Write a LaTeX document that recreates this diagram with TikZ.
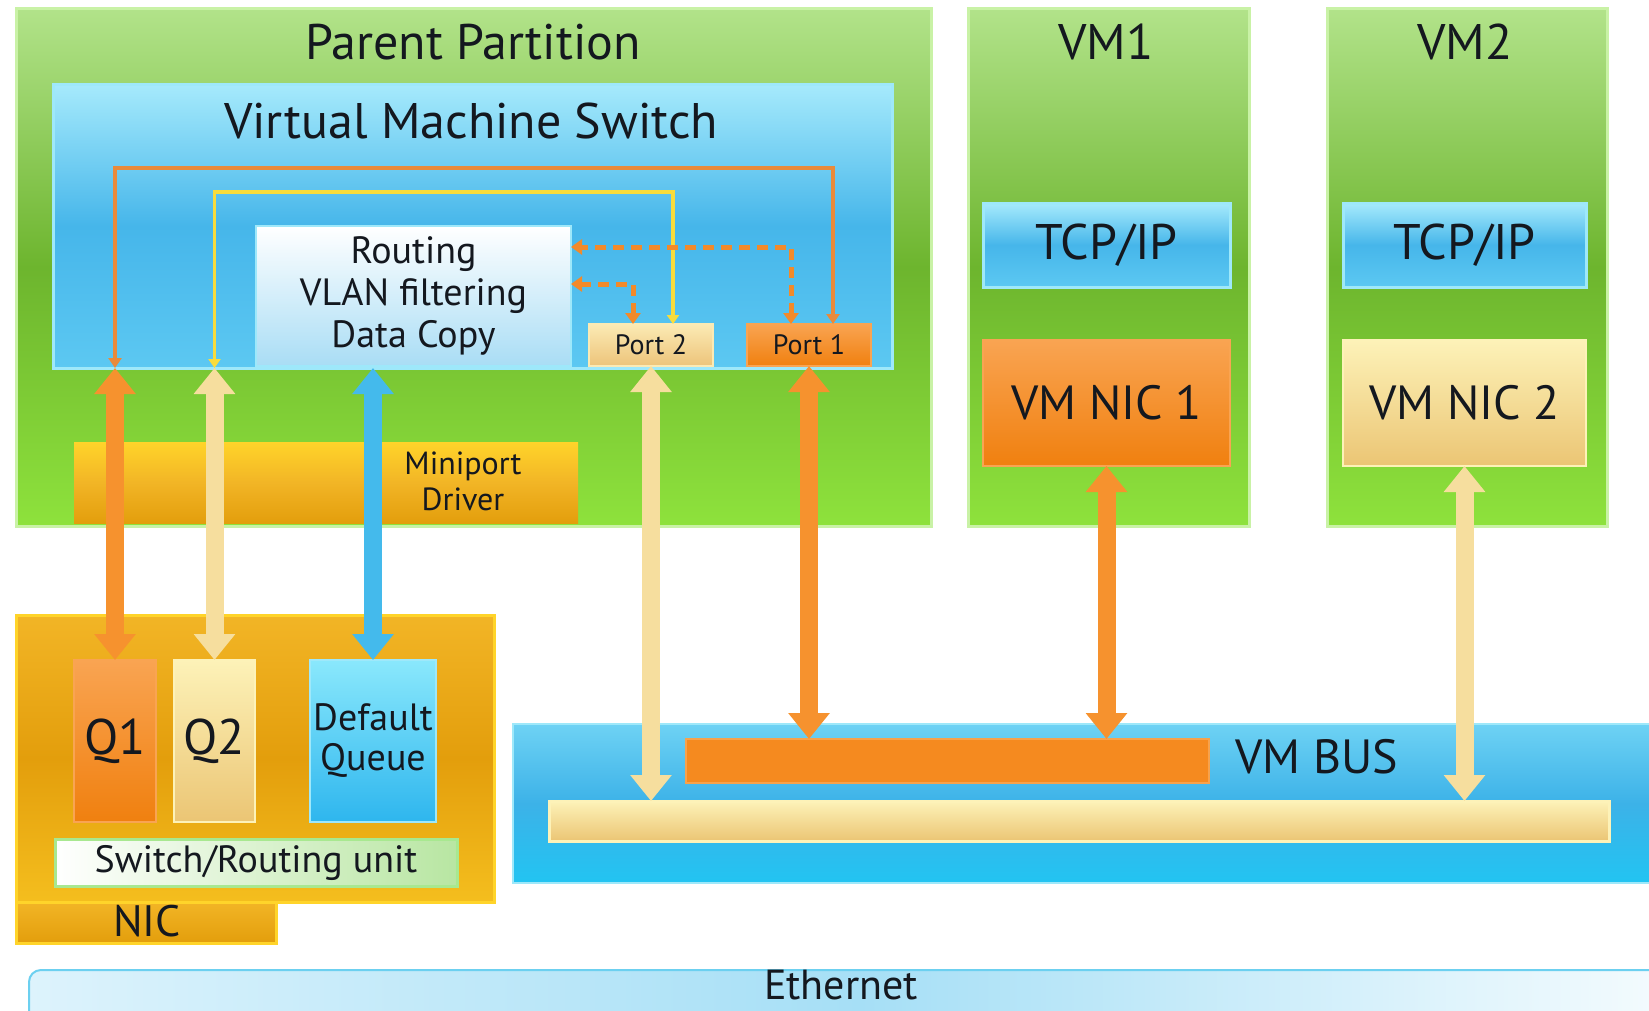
\documentclass[tikz,border=0pt]{standalone}
\usepackage{fontspec}
\setmainfont{PT Sans}
\usetikzlibrary{arrows.meta,calc}
\definecolor{txt}{HTML}{14181F}
\definecolor{gTop}{HTML}{B2E38A}\definecolor{gMid}{HTML}{6DB52E}\definecolor{gBot}{HTML}{8EE23C}\definecolor{gEdge}{HTML}{C9F2A6}
\definecolor{bTop}{HTML}{A6EAFC}\definecolor{bMid}{HTML}{46B6EA}\definecolor{bBot}{HTML}{5CC8F2}\definecolor{bEdge}{HTML}{9EE8FA}
\definecolor{rTop}{HTML}{FFFFFF}\definecolor{rBot}{HTML}{A9DDF5}
\definecolor{pTop}{HTML}{FBEAB4}\definecolor{pBot}{HTML}{EDC47A}
\definecolor{oTop}{HTML}{F9A452}\definecolor{oBot}{HTML}{F0800F}
\definecolor{yTop}{HTML}{FDF2B8}\definecolor{yBot}{HTML}{EBC574}
\definecolor{goldTop}{HTML}{F2B526}\definecolor{goldMid}{HTML}{E39E0C}\definecolor{goldBot}{HTML}{F4BE1E}\definecolor{goldEdge}{HTML}{FFD42A}
\definecolor{dqTop}{HTML}{8AE8FC}\definecolor{dqBot}{HTML}{2EB6EE}
\definecolor{sruL}{HTML}{FFFFFF}\definecolor{sruR}{HTML}{B8E6A2}\definecolor{sruE}{HTML}{A8E890}
\definecolor{vbTop}{HTML}{6ED2F4}\definecolor{vbMid}{HTML}{3CB2E8}\definecolor{vbBot}{HTML}{22C4F2}
\definecolor{obar}{HTML}{F58A1F}\definecolor{obarE}{HTML}{F7A24C}
\definecolor{arrO}{HTML}{F6922E}\definecolor{arrY}{HTML}{F6DE9E}\definecolor{arrB}{HTML}{44BAEC}
\definecolor{lineO}{HTML}{E98A3A}\definecolor{lineY}{HTML}{F8DC3C}\definecolor{dashOc}{HTML}{F28A2A}
\definecolor{ethL}{HTML}{DDF3FC}\definecolor{ethM}{HTML}{A6DFF6}\definecolor{ethR}{HTML}{F6FCFE}\definecolor{ethE}{HTML}{6CD0F0}
\tikzset{
  box/.style={anchor=north west, inner sep=0pt, outer sep=0pt, align=center, text=txt},
  lbl/.style={inner sep=0pt, align=center, text=txt},
  greenbox/.style={top color=gTop, bottom color=gBot, middle color=gMid, draw=gEdge, line width=3pt},
  bluebox/.style={top color=bTop, bottom color=bBot, middle color=bMid, draw=bEdge, line width=3pt},
  routebox/.style={top color=rTop, bottom color=rBot, draw=bEdge, line width=2pt},
  palebox/.style={top color=yTop, bottom color=yBot, draw=yTop, line width=2pt},
  orangebox/.style={top color=oTop, bottom color=oBot, draw=oTop, line width=2pt},
  goldbox/.style={top color=goldTop, bottom color=goldBot, middle color=goldMid, draw=goldEdge, line width=3pt},
  qbluebox/.style={top color=dqTop, bottom color=dqBot, draw=bEdge, line width=2pt},
  srubox/.style={left color=sruL, right color=sruR, draw=sruE, line width=3pt},
  busbox/.style={top color=vbTop, bottom color=vbBot, middle color=vbMid, draw=bEdge, line width=2pt},
  fat/.style={line width=18pt, {Triangle[width=40pt,length=26pt]}-{Triangle[width=40pt,length=26pt]}},
  thinO/.style={draw=lineO, line width=4pt, {Triangle[width=13pt,length=10pt]}-{Triangle[width=13pt,length=10pt]}},
  thinY/.style={draw=lineY, line width=3.5pt, {Triangle[width=12pt,length=9pt]}-{Triangle[width=12pt,length=9pt]}},
  dashO/.style={draw=dashOc, line width=5pt, dash pattern=on 11pt off 7pt, {Triangle[width=15pt,length=11pt]}-{Triangle[width=15pt,length=11pt]}},
}
\begin{document}
\begin{tikzpicture}[x=1pt,y=-1pt]
\useasboundingbox (0,0) rectangle (1649,1010);
\fill[white] (0,0) rectangle (1649,1010);
% partitions
\node[box, greenbox, minimum width=915pt, minimum height=518pt] (pp) at (16,8) {};
\node[box, greenbox, minimum width=281pt, minimum height=518pt] (vm1) at (968,8) {};
\node[box, greenbox, minimum width=280pt, minimum height=518pt] (vm2) at (1327,8) {};
\node[lbl, font=\fontsize{50}{52}\selectfont] (pptitle) at (473,42) {Parent Partition};
\node[lbl, font=\fontsize{50}{52}\selectfont] (vm1title) at (1106,42) {VM1};
\node[lbl, font=\fontsize{50}{52}\selectfont] (vm2title) at (1465,42) {VM2};
% virtual machine switch
\node[box, bluebox, minimum width=839pt, minimum height=284pt] (vms) at (53,84) {};
\node[lbl, font=\fontsize{50}{52}\selectfont] (vmstitle) at (471,121) {Virtual Machine Switch};
\node[box, routebox, minimum width=315pt, minimum height=140pt, font=\fontsize{38}{42}\selectfont] (route) at (256,226) {Routing\\VLAN filtering\\Data Copy};
\node[box, top color=pTop, bottom color=pBot, draw=pTop, line width=2pt, minimum width=124pt, minimum height=42pt, font=\fontsize{28}{30}\selectfont] (port2) at (589,324) {Port 2};
\node[box, top color=oTop, bottom color=oBot, draw=oTop, line width=2pt, minimum width=124pt, minimum height=42pt, font=\fontsize{28}{30}\selectfont] (port1) at (747,324) {Port 1};
% miniport
\node[box, top color=goldEdge, bottom color=goldMid, middle color=goldTop, minimum width=504pt, minimum height=81pt] (mini) at (74,442) {};
\node[lbl, font=\fontsize{32}{36}\selectfont] (minilbl) at (463,481) {Miniport\\Driver};
% VM stacks
\node[box, bluebox, minimum width=247pt, minimum height=84pt, font=\fontsize{50}{52}\selectfont] (tcp1) at (983,203) {TCP/IP};
\node[box, bluebox, minimum width=243pt, minimum height=84pt, font=\fontsize{50}{52}\selectfont] (tcp2) at (1343,203) {TCP/IP};
\node[box, orangebox, minimum width=247pt, minimum height=126pt, font=\fontsize{48}{50}\selectfont] (nic1) at (983,340) {VM NIC 1};
\node[box, palebox, minimum width=243pt, minimum height=126pt, font=\fontsize{48}{50}\selectfont] (nic2) at (1343,340) {VM NIC 2};
% NIC
\node[box, goldbox, minimum width=478pt, minimum height=287pt] (nicbox) at (16,615) {};
\node[box, top color=goldTop, bottom color=goldMid, draw=goldEdge, line width=3pt, minimum width=260pt, minimum height=41pt] (nicbar) at (16,902) {};
\node[lbl, font=\fontsize{44}{46}\selectfont] (niclbl) at (147,921) {NIC};
\node[box, orangebox, minimum width=82pt, minimum height=162pt, font=\fontsize{50}{52}\selectfont] (q1) at (74,660) {Q1};
\node[box, palebox, minimum width=81pt, minimum height=162pt, font=\fontsize{50}{52}\selectfont] (q2) at (174,660) {Q2};
\node[box, qbluebox, minimum width=126pt, minimum height=162pt, font=\fontsize{38}{40}\selectfont] (dq) at (310,660) {Default\\Queue};
\node[box, srubox, minimum width=402pt, minimum height=47pt, font=\fontsize{38}{40}\selectfont] (sru) at (55,839) {Switch/Routing unit};
% VM bus
\node[box, busbox, minimum width=1145pt, minimum height=159pt] (vmbus) at (513,724) {};
\node[box, fill=obar, draw=obarE, line width=2pt, minimum width=523pt, minimum height=44pt] (obarn) at (686,739) {};
\node[box, top color=yTop, bottom color=yBot, draw=yTop, line width=3pt, minimum width=1060pt, minimum height=40pt] (ybar) at (549,801) {};
\node[lbl, font=\fontsize{48}{50}\selectfont] (vmbuslbl) at (1317,757) {VM BUS};
% Ethernet
\node[box, left color=ethL, right color=ethR, middle color=ethM, draw=ethE, line width=2pt, rounded corners=12pt, minimum width=1660pt, minimum height=70pt] (eth) at (29,970) {};
\node[lbl, font=\fontsize{42}{44}\selectfont] (ethlbl) at (841,985) {Ethernet};
% fat arrows
\draw[fat, draw=arrO, fill=arrO] (q1.north |- vms.south) -- (q1.north);
\draw[fat, draw=arrY, fill=arrY] (q2.north |- vms.south) -- (q2.north);
\draw[fat, draw=arrB, fill=arrB] (dq.north |- vms.south) -- (dq.north);
\draw[fat, draw=arrY, fill=arrY] (port2.south) -- (port2.south |- ybar.north);
\draw[fat, draw=arrO, fill=arrO] (port1.south) -- (port1.south |- obarn.north);
\draw[fat, draw=arrO, fill=arrO] (nic1.south) -- (nic1.south |- obarn.north);
\draw[fat, draw=arrY, fill=arrY] (nic2.south) -- (nic2.south |- ybar.north);
% thin connectors
\draw[thinO] (q1.north |- vms.south) -- (q1.north |- 0,168) -- (833,168) -- (port1.north -| 833,0);
\draw[thinY] (q2.north |- vms.south) -- (q2.north |- 0,192) -- (673,192) -- (port2.north -| 673,0);
\draw[dashO] (port1.north -| 791,0) -- (791,247) -- (route.east |- 0,247);
\draw[dashO] (port2.north -| 633,0) -- (633,284) -- (route.east |- 0,284);
\end{tikzpicture}
\end{document}
